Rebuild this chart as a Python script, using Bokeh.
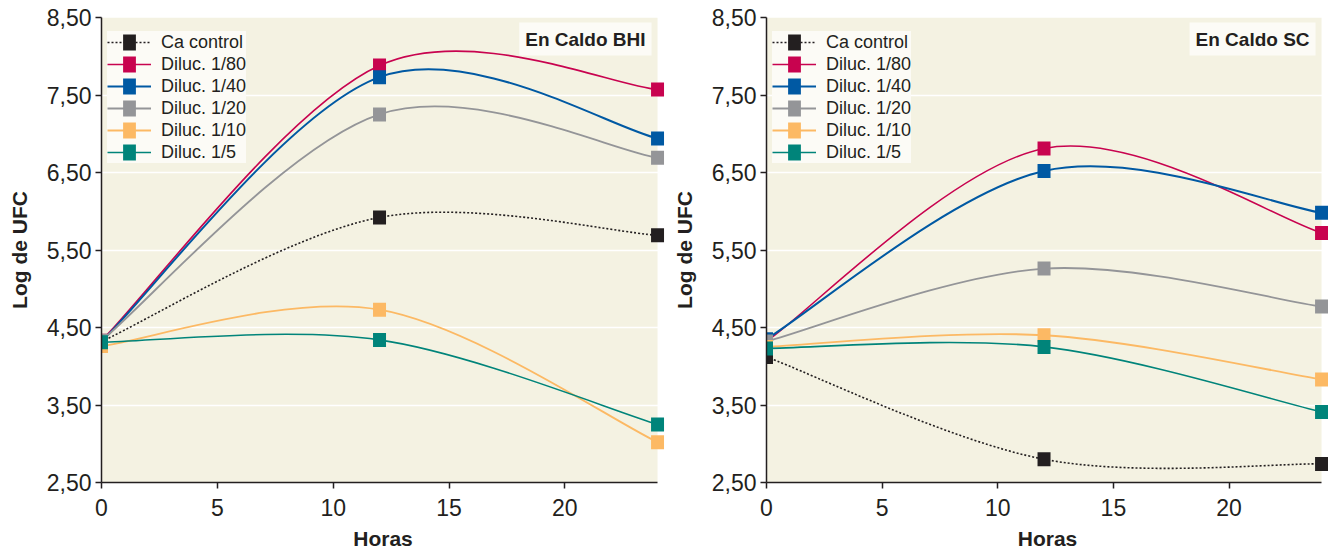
from bokeh.plotting import figure
from bokeh.layouts import row
from bokeh.models import FixedTicker, Legend, LegendItem, Label
from bokeh.embed import file_html
from bokeh.resources import INLINE

# ---------------- data ----------------
hours = [0, 12, 24]
series_names = ["Ca control", "Diluc. 1/80", "Diluc. 1/40", "Diluc. 1/20", "Diluc. 1/10", "Diluc. 1/5"]

bhi_control = [4.32, 5.92, 5.69]
bhi_80 = [4.33, 7.88, 7.57]
bhi_40 = [4.32, 7.73, 6.94]
bhi_20 = [4.33, 7.25, 6.69]
bhi_10 = [4.26, 4.73, 3.02]
bhi_5 = [4.31, 4.34, 3.25]

sc_control = [4.12, 2.80, 2.74]
sc_80 = [4.32, 6.81, 5.72]
sc_40 = [4.35, 6.52, 5.98]
sc_20 = [4.32, 5.26, 4.77]
sc_10 = [4.25, 4.40, 3.83]
sc_5 = [4.23, 4.25, 3.41]

y_ticks = [2.5, 3.5, 4.5, 5.5, 6.5, 7.5, 8.5]
y_tick_labels = ["2,50", "3,50", "4,50", "5,50", "6,50", "7,50", "8,50"]
x_ticks = [0, 5, 10, 15, 20]

panel_titles = ["En Caldo BHI", "En Caldo SC"]
x_label = "Horas"
y_label = "Log de UFC"

# ---------------- styles ----------------
colors = ["#231f20", "#c8034f", "#0059a3", "#949598", "#fcb964", "#00847a"]
widths = [1.6, 1.6, 2.0, 1.8, 1.8, 1.6]
dashes = ["2 2", "solid", "solid", "solid", "solid", "solid"]
BEIGE = "#f4f2e2"
BOX = "#fcfbf6"
INK = "#231f20"
FONT = "Liberation Sans"

FRAME_H = 466
FIG_H = 552
TOP = 17


def smooth_segments(xs, ys):
    """Excel-style smoothed line: cubic Bezier controls (Catmull-Rom, /6)."""
    n = len(xs)
    x0, y0, x1, y1, cx0, cy0, cx1, cy1 = [], [], [], [], [], [], [], []
    for i in range(n - 1):
        pm = i - 1 if i > 0 else i
        pp = i + 2 if i + 2 < n else i + 1
        x0.append(xs[i]); y0.append(ys[i])
        x1.append(xs[i + 1]); y1.append(ys[i + 1])
        cx0.append(xs[i] + (xs[i + 1] - xs[pm]) / 6.0)
        cy0.append(ys[i] + (ys[i + 1] - ys[pm]) / 6.0)
        cx1.append(xs[i + 1] - (xs[pp] - xs[i]) / 6.0)
        cy1.append(ys[i + 1] - (ys[pp] - ys[i]) / 6.0)
    return dict(x0=x0, y0=y0, x1=x1, y1=y1, cx0=cx0, cy0=cy0, cx1=cx1, cy1=cy1)


def make_panel(title, series, border_left, frame_w, border_right):
    p = figure(width=border_left + frame_w + border_right, height=FIG_H,
               x_range=(0, 24.3), y_range=(y_ticks[0], y_ticks[-1]),
               output_backend="svg", toolbar_location=None,
               min_border_left=border_left, min_border_right=border_right,
               min_border_top=TOP, min_border_bottom=FIG_H - TOP - FRAME_H)
    p.outline_line_color = None
    p.background_fill_color = "white"
    p.border_fill_color = "white"

    # plot-area background limited to the data extent
    p.quad(left=[hours[0]], right=[hours[-1]], bottom=[y_ticks[0]], top=[y_ticks[-1]],
           fill_color=BEIGE, line_color=None, level="image")

    p.xgrid.visible = False
    p.ygrid.ticker = FixedTicker(ticks=y_ticks)
    p.ygrid.grid_line_color = "white"
    p.ygrid.grid_line_width = 1.6

    p.yaxis.ticker = FixedTicker(ticks=y_ticks)
    p.yaxis.major_label_overrides = {t: l for t, l in zip(y_ticks, y_tick_labels)}
    p.xaxis.ticker = FixedTicker(ticks=x_ticks)
    p.xaxis.bounds = (hours[0], hours[-1])
    for ax in (p.xaxis[0], p.yaxis[0]):
        ax.axis_line_color = INK
        ax.axis_line_width = 1.5
        ax.major_tick_line_color = INK
        ax.major_tick_line_width = 1.5
        ax.major_tick_out = 6
        ax.major_tick_in = 0
        ax.minor_tick_line_color = None
        ax.major_label_text_font = FONT
        ax.major_label_text_font_size = "23px"
        ax.major_label_text_color = INK
        ax.axis_label_text_font = FONT
        ax.axis_label_text_font_size = "21px"
        ax.axis_label_text_font_style = "bold"
        ax.axis_label_text_color = INK
    p.xaxis.axis_label = x_label
    p.yaxis.axis_label = y_label
    p.xaxis.major_label_standoff = 10
    p.xaxis.axis_label_standoff = 8
    p.yaxis.major_label_standoff = 4
    p.yaxis.axis_label_standoff = 13

    line_rs, mark_rs = [], []
    for ys, c, w, d in zip(series, colors, widths, dashes):
        seg = smooth_segments(hours, ys)
        r = p.bezier(line_color=c, line_width=w, line_dash=d, **seg)
        line_rs.append(r)
    for ys, c in zip(series, colors):
        r = p.rect(x=hours, y=ys, width=13, height=14, width_units="screen",
                   height_units="screen", fill_color=c, line_color=None)
        mark_rs.append(r)

    pad, gh, lh, sp = 6, 20, 22, 0
    yloc = FRAME_H - 147
    xloc = 6

    leg1 = Legend(items=[LegendItem(label=nm, renderers=[r]) for nm, r in zip(series_names, line_rs)],
                  location=(xloc, yloc), padding=pad, spacing=sp, glyph_width=44, glyph_height=gh,
                  label_height=lh, label_standoff=10, label_text_font=FONT,
                  label_text_font_size="18px", label_text_color=INK,
                  background_fill_color=BOX, background_fill_alpha=1.0,
                  border_line_color=None, margin=0)
    # second, transparent legend that only carries the square markers over the line glyphs
    leg2 = Legend(items=[LegendItem(label=" ", renderers=[r]) for r in mark_rs],
                  location=(xloc + 14, yloc), padding=pad, spacing=sp, glyph_width=16, glyph_height=gh,
                  label_height=lh, label_standoff=0, label_text_font=FONT,
                  label_text_font_size="18px", label_text_alpha=0.0,
                  background_fill_alpha=0.0, border_line_color=None, margin=0)
    p.add_layout(leg1)
    p.add_layout(leg2)

    lab = Label(x=hours[-1], y=y_ticks[-1], x_offset=-6, y_offset=-5, text=title,
                text_align="right", text_baseline="top", text_font=FONT,
                text_font_size="19px", text_font_style="bold", text_color=INK,
                background_fill_color=BOX,
                padding=dict(left=6, right=6, top=6, bottom=6))
    p.add_layout(lab)
    return p


p1 = make_panel(panel_titles[0], [bhi_control, bhi_80, bhi_40, bhi_20, bhi_10, bhi_5], 101, 563, 4)
p2 = make_panel(panel_titles[1], [sc_control, sc_80, sc_40, sc_20, sc_10, sc_5], 98, 562, 0)

layout = row(p1, p2)
open("out.html", "w").write(file_html(layout, INLINE))
